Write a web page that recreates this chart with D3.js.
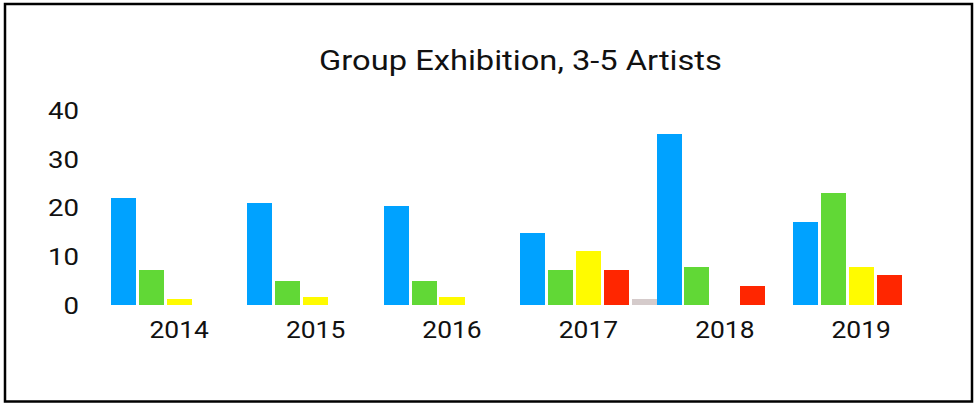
<!DOCTYPE html>
<html>
<head>
<meta charset="utf-8">
<script src="https://cdn.jsdelivr.net/npm/d3@7"></script>
<style>
  body { margin: 0; background: #fff; }
  text { font-family: Roboto, "Liberation Sans", sans-serif; fill: #111; }
</style>
</head>
<body>
<svg id="barChart"></svg>
<script>
var width = 974,
height = 403;

// data
var years = ["2014", "2015", "2016", "2017", "2018", "2019"];
var seriesNames = ["A", "B", "C", "D", "E"];
var seriesA = [22, 20.9, 20.3, 14.8, 35.1, 17.0];
var seriesB = [7.2, 4.9, 4.9, 7.2, 7.8, 23.0];
var seriesC = [1.2, 1.6, 1.6, 11.1, 0, 7.8];
var seriesD = [0, 0, 0, 7.2, 3.9, 6.2];
var seriesE = [0, 0, 0, 1.2, 0, 0];
var yTicks = [0, 10, 20, 30, 40];
var titleText = "Group Exhibition, 3-5 Artists";

var colors = ["#00a2ff", "#61d836", "#fffb00", "#ff2600", "#d5cbcb"];

var allSeries = [seriesA, seriesB, seriesC, seriesD, seriesE];
var rows = years.map(function(y, i) {
  return {
    year: y,
    values: seriesNames.map(function(s, j) { return {key: s, value: allSeries[j][i]}; })
  };
});

var svg = d3.select("#barChart")
  .attr("width", width)
  .attr("height", height);

// frame
svg.append("rect")
  .attr("x", 5)
  .attr("y", 4)
  .attr("width", 967)
  .attr("height", 397.5)
  .attr("fill", "none")
  .attr("stroke", "#000")
  .attr("stroke-width", 2.5);

var x0 = d3.scaleBand()
  .domain(years)
  .range([111, 929.4])
  .padding(0);

var x1 = d3.scaleBand()
  .domain(seriesNames)
  .range([0, x0.bandwidth()])
  .paddingInner(0.1)
  .paddingOuter(0);

var y = d3.scaleLinear()
  .domain([0, 40])
  .range([305, 110]);

var color = d3.scaleOrdinal()
  .domain(seriesNames)
  .range(colors);

// title (text in the picture is drawn a bit wide)
svg.append("text")
  .attr("transform", "translate(520.5,69.5) scale(1.21,1)")
  .attr("text-anchor", "middle")
  .style("font-size", "27px")
  .text(titleText);

// y labels, no axis line
var yAxis = svg.append("g")
  .attr("transform", "translate(79,0)")
  .call(d3.axisLeft(y).tickValues(yTicks).tickSize(0).tickPadding(0));
yAxis.select(".domain").remove();
yAxis.selectAll("text")
  .attr("x", null)
  .attr("transform", "scale(1.2,1)")
  .attr("dy", "0.36em")
  .style("font-size", "23px")
  .style("font-family", "Roboto")
  .attr("fill", "#111");

// bars
var groups = svg.selectAll(".year")
  .data(rows)
  .enter().append("g")
  .attr("class", "year")
  .attr("transform", function(d) { return "translate(" + x0(d.year) + ",0)"; });

groups.selectAll("rect")
  .data(function(d) { return d.values.filter(function(v) { return v.value > 0; }); })
  .enter().append("rect")
  .attr("x", function(d) { return x1(d.key); })
  .attr("y", function(d) { return y(d.value); })
  .attr("width", x1.bandwidth())
  .attr("height", function(d) { return y(0) - y(d.value); })
  .attr("fill", function(d) { return color(d.key); })
  .attr("shape-rendering", "crispEdges");

// year labels
var xAxis = svg.append("g")
  .attr("transform", "translate(0,321)")
  .call(d3.axisBottom(x0).tickSize(0).tickPadding(0));
xAxis.select(".domain").remove();
xAxis.selectAll("text")
  .attr("y", null)
  .attr("dy", "0.71em")
  .attr("transform", "scale(1.1,1)")
  .style("font-size", "24px")
  .style("font-family", "Roboto")
  .attr("fill", "#111");
xAxis.selectAll(".tick")
  .attr("transform", function(d) { return "translate(" + (x0(d) + x0.bandwidth() / 2) + ",0)"; });
</script>
</body>
</html>
